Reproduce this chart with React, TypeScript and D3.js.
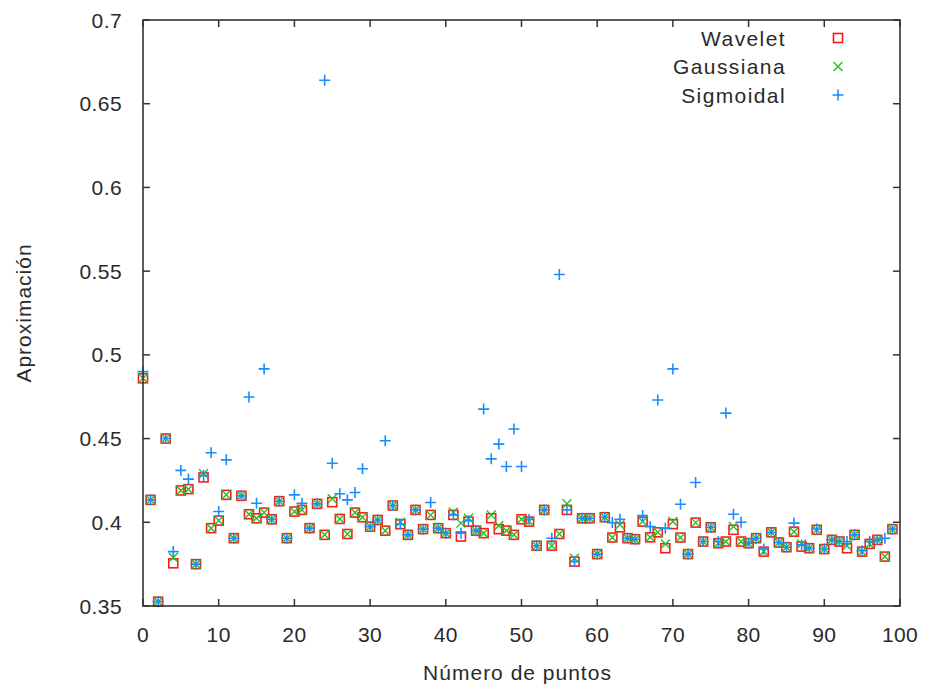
import * as d3 from "d3";

// values, index = número de puntos (0..99)
const wavelet = [
    0.486, 0.4134, 0.3526, 0.45, 0.3755, 0.419, 0.4198, 0.375, 0.4268, 0.3965,
    0.401, 0.4164, 0.3905, 0.4158, 0.4048, 0.4024, 0.4058, 0.4018, 0.4126, 0.3905,
    0.4064, 0.4074, 0.3965, 0.411, 0.3925, 0.412, 0.402, 0.393, 0.4058, 0.403,
    0.3974, 0.4014, 0.395, 0.41, 0.3989, 0.3925, 0.4074, 0.3959, 0.4044, 0.3965,
    0.3935, 0.4044, 0.3915, 0.4004, 0.395, 0.3935, 0.4024, 0.3959, 0.395, 0.3925,
    0.4018, 0.4004, 0.386, 0.4074, 0.386, 0.393, 0.4074, 0.3765, 0.4024, 0.4024,
    0.381, 0.403, 0.3909, 0.397, 0.3905, 0.3899, 0.4004, 0.391, 0.394, 0.3845,
    0.3989, 0.3909, 0.381, 0.3998, 0.3885, 0.397, 0.3875, 0.3885, 0.3955, 0.3885,
    0.3875, 0.3905, 0.3825, 0.394, 0.3879, 0.3851, 0.3944, 0.3855, 0.3845, 0.3955,
    0.384, 0.3895, 0.3885, 0.3845, 0.3925, 0.3825, 0.3871, 0.3895, 0.3795, 0.3959,
];

const gaussiana = [
    0.486, 0.4134, 0.3526, 0.45, 0.379, 0.419, 0.4198, 0.375, 0.429, 0.3965,
    0.401, 0.4164, 0.3905, 0.4158, 0.4048, 0.4024, 0.4058, 0.4018, 0.4126, 0.3905,
    0.4064, 0.4074, 0.3965, 0.411, 0.3925, 0.414, 0.402, 0.393, 0.4058, 0.403,
    0.3974, 0.4014, 0.395, 0.41, 0.4, 0.3925, 0.4074, 0.3959, 0.4044, 0.3965,
    0.3935, 0.406, 0.3995, 0.4024, 0.395, 0.3935, 0.4044, 0.398, 0.395, 0.3925,
    0.4018, 0.4004, 0.386, 0.4074, 0.386, 0.393, 0.411, 0.3785, 0.4024, 0.4024,
    0.381, 0.403, 0.3909, 0.3985, 0.3905, 0.3899, 0.4004, 0.391, 0.394, 0.387,
    0.4004, 0.3909, 0.381, 0.3998, 0.3885, 0.397, 0.3875, 0.3885, 0.3975, 0.3885,
    0.3875, 0.3905, 0.3825, 0.394, 0.3879, 0.3851, 0.3944, 0.387, 0.3845, 0.3955,
    0.384, 0.3895, 0.3885, 0.386, 0.3925, 0.3825, 0.3871, 0.3895, 0.3795, 0.3959,
];

const sigmoidal = [
    0.49, 0.4134, 0.3526, 0.45, 0.3825, 0.431, 0.4258, 0.375, 0.428, 0.4415,
    0.4064, 0.4373, 0.3905, 0.4158, 0.4748, 0.4114, 0.4916, 0.4018, 0.4126, 0.3905,
    0.4164, 0.4114, 0.3965, 0.411, 0.664, 0.4353, 0.417, 0.4134, 0.4178, 0.432,
    0.3974, 0.4014, 0.4487, 0.41, 0.3989, 0.3925, 0.4074, 0.3959, 0.4118, 0.3965,
    0.3935, 0.4044, 0.3935, 0.401, 0.395, 0.4676, 0.4379, 0.4467, 0.4333, 0.4557,
    0.4333, 0.4018, 0.386, 0.4074, 0.3905, 0.548, 0.4074, 0.3765, 0.4024, 0.4024,
    0.381, 0.403, 0.3998, 0.4018, 0.3905, 0.3899, 0.404, 0.3974, 0.473, 0.3965,
    0.4916, 0.4108, 0.381, 0.4238, 0.3885, 0.397, 0.3885, 0.4652, 0.4048, 0.4,
    0.3875, 0.3905, 0.384, 0.394, 0.3879, 0.3851, 0.3995, 0.3865, 0.3845, 0.396,
    0.384, 0.3895, 0.3885, 0.3885, 0.3925, 0.383, 0.3885, 0.3895, 0.3905, 0.3959,
];

const xTicks = [0, 10, 20, 30, 40, 50, 60, 70, 80, 90, 100];
const yTicks = [0.35, 0.4, 0.45, 0.5, 0.55, 0.6, 0.65, 0.7];
const seriesNames = ["Wavelet", "Gaussiana", "Sigmoidal"];

const W = 925, H = 692;
const left = 143, right = 900, top = 20, bottom = 606;
const font = "'Liberation Sans', Arial, sans-serif";
const axisColor = "#333";
const textColor = "#2a2a2a";
const colors = ["#ff1a1a", "#22c022", "#1a8cff"];

const x = d3.scaleLinear().domain([0, 100]).range([left, right]);
const y = d3.scaleLinear().domain([0.35, 0.7]).range([bottom, top]);

// gnuplot style point markers
const Marker = ({ kind, cx, cy }: { kind: number; cx: number; cy: number }) => {
    const c = colors[kind];
    if (kind === 0) {
        return <rect x={cx - 4.5} y={cy - 4.5} width={9} height={9} fill="none" stroke={c} strokeWidth={1.6} />;
    }
    if (kind === 1) {
        const r = 4.5;
        return (
            <path d={`M${cx - r},${cy - r}L${cx + r},${cy + r}M${cx - r},${cy + r}L${cx + r},${cy - r}`}
                stroke={c} strokeWidth={1.4} fill="none" />
        );
    }
    const r = 5.5;
    return (
        <path d={`M${cx - r},${cy}L${cx + r},${cy}M${cx},${cy - r}L${cx},${cy + r}`}
            stroke={c} strokeWidth={1.6} fill="none" />
    );
};

const App = () => {
    const series = [wavelet, gaussiana, sigmoidal];
    const tick = 7;

    return (
        <div style={{ position: "absolute", left: 0, top: 0 }}>
            <svg width={W} height={H} style={{ display: "block", background: "#fff" }}>
                {/* ticks, mirrored on all four sides */}
                <g stroke={axisColor} strokeWidth={1.5}>
                    {xTicks.map(t => (
                        <g key={"xt" + t}>
                            <line x1={x(t)} x2={x(t)} y1={bottom} y2={bottom - tick} />
                            <line x1={x(t)} x2={x(t)} y1={top} y2={top + tick} />
                        </g>
                    ))}
                    {yTicks.map(t => (
                        <g key={"yt" + t}>
                            <line x1={left} x2={left + tick} y1={y(t)} y2={y(t)} />
                            <line x1={right} x2={right - tick} y1={y(t)} y2={y(t)} />
                        </g>
                    ))}
                </g>

                {/* tick labels */}
                <g fontFamily={font} fontSize={21} fill={textColor} letterSpacing={0.4}>
                    {xTicks.map(t => (
                        <text key={"xl" + t} x={x(t)} y={642} textAnchor="middle">{t}</text>
                    ))}
                    {yTicks.map(t => (
                        <text key={"yl" + t} x={122} y={y(t) + 7.5} textAnchor="end">{d3.format("")(t)}</text>
                    ))}
                </g>

                {/* axis titles */}
                <text x={(left + right) / 2 - 4} y={680} textAnchor="middle" fontFamily={font} fontSize={21}
                    fill={textColor} letterSpacing={1}>
                    Número de puntos
                </text>
                <text transform={`translate(31,${(top + bottom) / 2}) rotate(-90)`} textAnchor="middle"
                    fontFamily={font} fontSize={21} fill={textColor} letterSpacing={1}>
                    Aproximación
                </text>

                {/* points */}
                {series.map((vals, s) => (
                    <g key={"s" + s}>
                        {vals.map((v, i) => (
                            <Marker key={i} kind={s} cx={x(i)} cy={y(v)} />
                        ))}
                    </g>
                ))}

                {/* legend */}
                {seriesNames.map((name, s) => {
                    const ly = 38 + s * 28.5;
                    return (
                        <g key={"lg" + s}>
                            <text x={786} y={ly + 7.5} textAnchor="end" fontFamily={font} fontSize={21}
                                fill={textColor} letterSpacing={1.4}>{name}</text>
                            <Marker kind={s} cx={838} cy={ly} />
                        </g>
                    );
                })}

                {/* border */}
                <rect x={left} y={top} width={right - left} height={bottom - top} fill="none" stroke={axisColor} strokeWidth={1.6} />
            </svg>
        </div>
    );
};

export default App;
